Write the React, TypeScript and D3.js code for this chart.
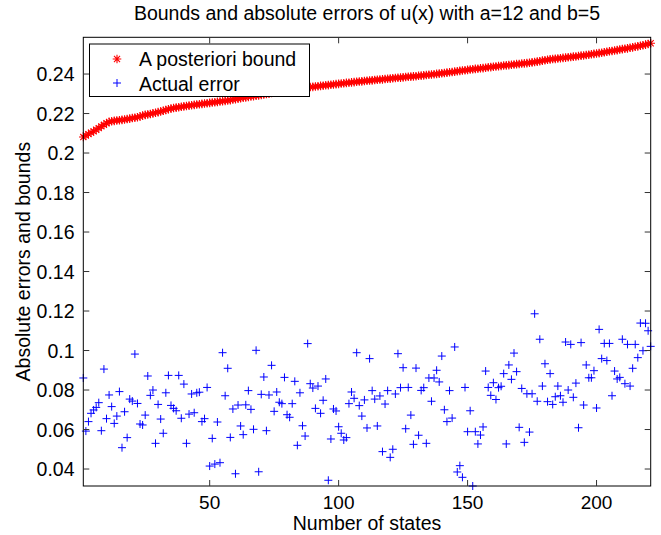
// @ts-nocheck
import React, { useEffect, useRef } from "react";
import * as d3 from "d3";

// a posteriori bound, one value per number of states (1..221)
const boundValues = [
  0.2081, 0.2089, 0.2096, 0.2103, 0.211, 0.2118, 0.2126, 0.2135, 0.2143, 0.2151,
  0.2158, 0.2161, 0.2163, 0.2165, 0.2166, 0.2168, 0.217, 0.2172, 0.2174, 0.2177,
  0.2179, 0.2181, 0.2185, 0.219, 0.2193, 0.2195, 0.2198, 0.2201, 0.2204, 0.2207,
  0.221, 0.2214, 0.2218, 0.2222, 0.2225, 0.2228, 0.223, 0.2232, 0.2234, 0.2236,
  0.2238, 0.224, 0.2242, 0.2244, 0.2246, 0.2247, 0.2249, 0.2251, 0.2252, 0.2254,
  0.2256, 0.2257, 0.2259, 0.2261, 0.2263, 0.2264, 0.2266, 0.2268, 0.2271, 0.2273,
  0.2275, 0.2278, 0.228, 0.2282, 0.2284, 0.2286, 0.2288, 0.229, 0.2292, 0.2294,
  0.2296, 0.2299, 0.2301, 0.2304, 0.2306, 0.2309, 0.2311, 0.2313, 0.2316, 0.2318,
  0.232, 0.2322, 0.2324, 0.2326, 0.2327, 0.2329, 0.2331, 0.2332, 0.2334, 0.2335,
  0.2337, 0.2338, 0.234, 0.2341, 0.2343, 0.2344, 0.2346, 0.2347, 0.2349, 0.235,
  0.2352, 0.2353, 0.2355, 0.2356, 0.2358, 0.2359, 0.2361, 0.2362, 0.2363, 0.2365,
  0.2366, 0.2367, 0.2368, 0.237, 0.2371, 0.2372, 0.2373, 0.2375, 0.2376, 0.2377,
  0.2379, 0.238, 0.2381, 0.2382, 0.2383, 0.2385, 0.2386, 0.2387, 0.2388, 0.2389,
  0.2391, 0.2392, 0.2393, 0.2395, 0.2396, 0.2398, 0.2399, 0.2401, 0.2402, 0.2404,
  0.2405, 0.2407, 0.2409, 0.241, 0.2412, 0.2414, 0.2416, 0.2418, 0.2419, 0.2421,
  0.2423, 0.2424, 0.2426, 0.2427, 0.2429, 0.243, 0.2432, 0.2434, 0.2435, 0.2437,
  0.2438, 0.244, 0.2441, 0.2443, 0.2444, 0.2445, 0.2447, 0.2448, 0.245, 0.2451,
  0.2453, 0.2454, 0.2455, 0.2457, 0.2459, 0.2461, 0.2463, 0.2465, 0.2468, 0.247,
  0.2472, 0.2474, 0.2476, 0.2477, 0.2479, 0.248, 0.2482, 0.2483, 0.2485, 0.2486,
  0.2488, 0.2489, 0.2491, 0.2493, 0.2494, 0.2496, 0.2498, 0.25, 0.2502, 0.2504,
  0.2506, 0.2508, 0.251, 0.2513, 0.2515, 0.2517, 0.2519, 0.2521, 0.2524, 0.2526,
  0.2528, 0.253, 0.2533, 0.2535, 0.2538, 0.254, 0.2543, 0.2546, 0.2549, 0.2552,
  0.2556,
];

// actual absolute error, same states
const errorValues = [
  0.0861, 0.0592, 0.064, 0.0682, 0.0699, 0.0712, 0.0736, 0.0594, 0.0906, 0.0655,
  0.0775, 0.0716, 0.0631, 0.0668, 0.0792, 0.0508, 0.069, 0.0559, 0.0754, 0.0744,
  0.0982, 0.0732, 0.0628, 0.0623, 0.0673, 0.0871, 0.0773, 0.08, 0.053, 0.0727,
  0.0653, 0.0581, 0.0786, 0.0874, 0.0722, 0.0707, 0.0695, 0.0874, 0.0657, 0.083,
  0.053, 0.0678, 0.078, 0.0685, 0.0786, 0.0789, 0.064, 0.0655, 0.0813, 0.0415,
  0.0555, 0.0425, 0.0638, 0.0432, 0.0989, 0.0771, 0.091, 0.056, 0.0704, 0.0376,
  0.0724, 0.0618, 0.0574, 0.0725, 0.0797, 0.0702, 0.0601, 0.1001, 0.0386, 0.0778,
  0.0866, 0.0594, 0.0775, 0.0925, 0.0692, 0.079, 0.0738, 0.0731, 0.0864, 0.0675,
  0.0662, 0.0731, 0.0844, 0.052, 0.0786, 0.0619, 0.0567, 0.1035, 0.0832, 0.081,
  0.0707, 0.082, 0.0682, 0.0748, 0.0856, 0.0343, 0.0552, 0.0704, 0.0694, 0.0614,
  0.0581, 0.0547, 0.0559, 0.0731, 0.079, 0.0758, 0.0989, 0.0721, 0.0668, 0.075,
  0.0608, 0.0959, 0.0797, 0.0754, 0.0618, 0.077, 0.0488, 0.0729, 0.0797, 0.0459,
  0.05, 0.078, 0.0984, 0.0812, 0.0913, 0.0604, 0.0813, 0.0673, 0.0525, 0.0911,
  0.0571, 0.0798, 0.0812, 0.053, 0.0861, 0.0743, 0.0861, 0.09, 0.0841, 0.0972,
  0.07, 0.064, 0.0797, 0.0658, 0.1018, 0.0385, 0.0417, 0.0358, 0.0813, 0.0589,
  0.0695, 0.0314, 0.0589, 0.0527, 0.0572, 0.0613, 0.0896, 0.0813, 0.0773, 0.0837,
  0.0752, 0.0812, 0.0819, 0.0883, 0.0527, 0.0927, 0.0854, 0.0987, 0.0893, 0.0611,
  0.0808, 0.0535, 0.0781, 0.0587, 0.0781, 0.1186, 0.0743, 0.1057, 0.082, 0.0933,
  0.0741, 0.0883, 0.0727, 0.0766, 0.082, 0.0771, 0.0738, 0.1043, 0.08, 0.1031,
  0.0763, 0.0835, 0.0609, 0.104, 0.0724, 0.0927, 0.0862, 0.0862, 0.0898, 0.0709,
  0.1107, 0.0959, 0.1036, 0.0949, 0.1036, 0.0771, 0.0896, 0.0856, 0.0864, 0.1057,
  0.0832, 0.1031, 0.082, 0.091, 0.1031, 0.0964, 0.1139, 0.0999, 0.1138, 0.11,
  0.1021,
];

const xTicks = [50, 100, 150, 200];
const yTicks = [0.04, 0.06, 0.08, 0.1, 0.12, 0.14, 0.16, 0.18, 0.2, 0.22, 0.24];
const xDomain = [1, 221];
const yDomain = [0.0314, 0.2586];
const legendLabels = ["A posteriori bound", "Actual error"];

const FONT = "'Liberation Sans', Arial, Helvetica, sans-serif";

const starPath = (r) => {
  const d = r * Math.SQRT1_2;
  return `M${-r},0H${r}M0,${-r}V${r}M${-d},${-d}L${d},${d}M${-d},${d}L${d},${-d}`;
};
const plusPath = (r) => `M${-r},0H${r}M0,${-r}V${r}`;

export default function App() {
  const svgRef = useRef(null);

  useEffect(() => {
    const svg = d3.select(svgRef.current);
    svg.selectAll("*").remove();

    const left = 83.3, right = 650.7, top = 37.3, bottom = 486;

    const x = d3.scaleLinear().domain(xDomain).range([left, right]);
    const y = d3.scaleLinear().domain(yDomain).range([bottom, top]);

    const states = boundValues.map((_, i) => i + 1);

    // title
    svg.append("text")
      .attr("x", (left + right) / 2)
      .attr("y", 20)
      .attr("text-anchor", "middle")
      .attr("font-size", 19.5)
      .attr("font-family", FONT)
      .text("Bounds and absolute errors of u(x) with a=12 and b=5");

    // bound markers (red asterisks)
    svg.append("g")
      .selectAll("path")
      .data(states)
      .join("path")
      .attr("transform", (d, i) => `translate(${x(d)},${y(boundValues[i])})`)
      .attr("d", starPath(4.3))
      .attr("stroke", "#ff0000")
      .attr("stroke-width", 1.1)
      .attr("fill", "none");

    // error markers (blue plus)
    svg.append("g")
      .selectAll("path")
      .data(states)
      .join("path")
      .attr("transform", (d, i) => `translate(${x(d)},${y(errorValues[i])})`)
      .attr("d", plusPath(4))
      .attr("stroke", "#0000ff")
      .attr("stroke-width", 1)
      .attr("fill", "none");

    // box
    svg.append("rect")
      .attr("x", left)
      .attr("y", top)
      .attr("width", right - left)
      .attr("height", bottom - top)
      .attr("fill", "none")
      .attr("stroke", "#000")
      .attr("stroke-width", 1);

    const tickLen = 6;
    const ticks = svg.append("g").attr("stroke", "#333").attr("stroke-width", 1);

    xTicks.forEach((t) => {
      ticks.append("line").attr("x1", x(t)).attr("x2", x(t)).attr("y1", bottom).attr("y2", bottom - tickLen);
      ticks.append("line").attr("x1", x(t)).attr("x2", x(t)).attr("y1", top).attr("y2", top + tickLen);
    });
    yTicks.forEach((t) => {
      ticks.append("line").attr("x1", left).attr("x2", left + tickLen).attr("y1", y(t)).attr("y2", y(t));
      ticks.append("line").attr("x1", right).attr("x2", right - tickLen).attr("y1", y(t)).attr("y2", y(t));
    });

    svg.append("g")
      .selectAll("text")
      .data(xTicks)
      .join("text")
      .attr("x", (d) => x(d))
      .attr("y", 509)
      .attr("text-anchor", "middle")
      .attr("font-size", 19)
      .attr("font-family", FONT)
      .text((d) => d);

    svg.append("g")
      .selectAll("text")
      .data(yTicks)
      .join("text")
      .attr("x", 74.5)
      .attr("y", (d) => y(d) + 7)
      .attr("text-anchor", "end")
      .attr("font-size", 19.5)
      .attr("font-family", FONT)
      .text((d) => d3.format("~g")(d));

    // axis labels
    svg.append("text")
      .attr("x", (left + right) / 2)
      .attr("y", 530)
      .attr("text-anchor", "middle")
      .attr("font-size", 19.5)
      .attr("font-family", FONT)
      .text("Number of states");

    svg.append("text")
      .attr("transform", `translate(30,${(top + bottom) / 2}) rotate(-90)`)
      .attr("text-anchor", "middle")
      .attr("font-size", 19.5)
      .attr("font-family", FONT)
      .text("Absolute errors and bounds");

    // legend
    const lg = svg.append("g");
    lg.append("rect")
      .attr("x", 89.5)
      .attr("y", 44)
      .attr("width", 220)
      .attr("height", 52.5)
      .attr("fill", "#fff")
      .attr("stroke", "#000")
      .attr("stroke-width", 1);

    lg.append("path")
      .attr("transform", "translate(117,59)")
      .attr("d", starPath(4.3))
      .attr("stroke", "#ff0000")
      .attr("stroke-width", 1.1)
      .attr("fill", "none");
    lg.append("path")
      .attr("transform", "translate(117,83)")
      .attr("d", plusPath(4))
      .attr("stroke", "#0000ff")
      .attr("stroke-width", 1)
      .attr("fill", "none");

    legendLabels.forEach((label, i) => {
      lg.append("text")
        .attr("x", 139)
        .attr("y", 66 + i * 24.5)
        .attr("font-size", 19.5)
        .attr("font-family", FONT)
        .text(label);
    });
  }, []);

  return (
    <div style={{ position: "absolute", left: 0, top: 0, width: 661, height: 535, background: "#fff" }}>
      <svg ref={svgRef} width={661} height={535}></svg>
    </div>
  );
}
